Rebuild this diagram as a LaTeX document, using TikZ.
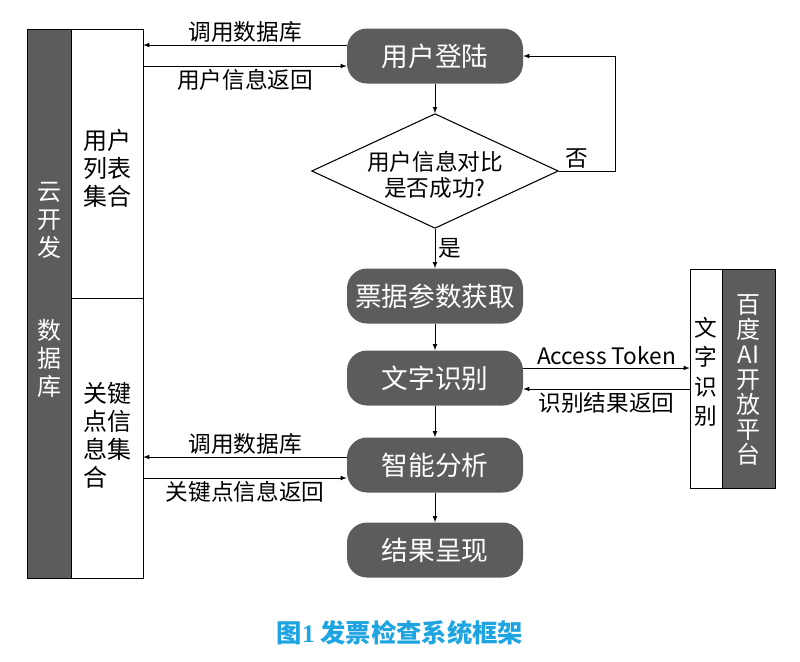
\documentclass[tikz,border=0pt]{standalone}
\usepackage{fontspec}
\setmainfont{Noto Sans CJK SC}
\newfontfamily\numfont{Liberation Serif}
\usetikzlibrary{shapes.geometric}
\definecolor{boxgray}{RGB}{92,92,92}
\definecolor{capblue}{RGB}{30,165,225}

\begin{document}
\begin{tikzpicture}[x=0.75pt, y=-0.75pt,
    proc/.style={rectangle, rounded corners=15pt, fill=boxgray, text=white, minimum width=132pt, minimum height=41.25pt, inner sep=0pt, font=\fontsize{20}{23}\selectfont},
    darkcol/.style={rectangle, draw=black, fill=boxgray, inner sep=0pt},
    whitecol/.style={rectangle, draw=black, fill=white, inner sep=0pt},
    coltext/.style={align=center, font=\fontsize{18}{21}\selectfont},
    lbl/.style={font=\fontsize{17}{20}\selectfont, inner sep=2pt},
    arr/.style={semithick, -latex}]
        \useasboundingbox (0,0) rectangle (800,661);

        % Cột cơ sở dữ liệu bên trái
        \node[darkcol, minimum width=33pt, minimum height=411.75pt] (cloud) at (49,303.5) {};
        \node[whitecol, minimum width=54pt, minimum height=201.75pt] (userset) at (107,163.5) {};
        \node[whitecol, minimum width=54pt, minimum height=210pt] (keyset) at (107,438) {};
        \node[coltext, text=white] (cloudtext) at (49,220) {云\\开\\发};
        \node[coltext, text=white] (dbtext) at (49,358) {数\\据\\库};
        \node[coltext] (usertext) at (107,168) {用户\\列表\\集合};
        \node[coltext, align=left] (keytext) at (107,435) {关键\\点信\\息集\\合};

        % Các bước xử lý
        \node[proc] (login) at (435,56) {用户登陆};
        \node[diamond, draw, thick, minimum width=185pt, minimum height=86pt, inner sep=0pt] (check) at (435,171) {};
        \node[lbl, align=center, font=\fontsize{17}{19}\selectfont] (checktext) at (435,175) {用户信息对比\\是否成功?};
        \node[proc] (bill) at (435,296) {票据参数获取};
        \node[proc] (ocr) at (435,378) {文字识别};
        \node[proc] (analysis) at (435,465) {智能分析};
        \node[proc] (result) at (435,550) {结果呈现};

        % Nền tảng bên phải
        \node[whitecol, minimum width=24pt, minimum height=164.25pt] (ocrapi) at (706,378.5) {};
        \node[darkcol, minimum width=39.75pt, minimum height=164.25pt] (baidu) at (748.5,378.5) {};
        \node[coltext, font=\fontsize{17}{22}\selectfont] (ocrapitext) at (706,372) {文\\字\\识\\别};
        \node[coltext, text=white, font=\fontsize{18}{18.75}\selectfont] (baidutext) at (748.5,380) {百\\度\\AI\\开\\放\\平\\台};

        % Luồng chính
        \draw[arr] (login) -- (check);
        \draw[arr] (check) -- (bill) node[lbl, midway, right] (yeslbl) {是};
        \draw[arr] (check.east) -- ++(57,0) node[lbl, pos=0.32, above] (nolbl) {否} |- (login.east);
        \draw[arr] (bill) -- (ocr);
        \draw[arr] (ocr) -- (analysis);
        \draw[arr] (analysis) -- (result);

        % Trao đổi với cơ sở dữ liệu
        \draw[arr] ([yshift=8.25pt]login.west) -- ([yshift=8.25pt]login.west -| userset.east) node[lbl, midway, above] (calluser) {调用数据库};
        \draw[arr] ([yshift=-7.5pt]login.west -| userset.east) -- ([yshift=-7.5pt]login.west) node[lbl, midway, below] (userback) {用户信息返回};
        \draw[arr] ([yshift=6pt]analysis.west) -- ([yshift=6pt]analysis.west -| keyset.east) node[lbl, midway, above] (callkey) {调用数据库};
        \draw[arr] ([yshift=-9.75pt]analysis.west -| keyset.east) -- ([yshift=-9.75pt]analysis.west) node[lbl, midway, below] (keyback) {关键点信息返回};

        % Trao đổi với nền tảng
        \draw[arr] ([yshift=7.5pt]ocr.east) -- ([yshift=7.5pt]ocr.east -| ocrapi.west) node[lbl, midway, above] (token) {Access Token};
        \draw[arr] ([yshift=-8.25pt]ocr.east -| ocrapi.west) -- ([yshift=-8.25pt]ocr.east) node[lbl, midway, below] (ocrback) {识别结果返回};

        % Chú thích
        \node[font=\fontsize{19}{22}\selectfont\bfseries, text=capblue] (caption) at (400,633) {图{\numfont 1} 发票检查系统框架};
    \end{tikzpicture}
\end{document}
